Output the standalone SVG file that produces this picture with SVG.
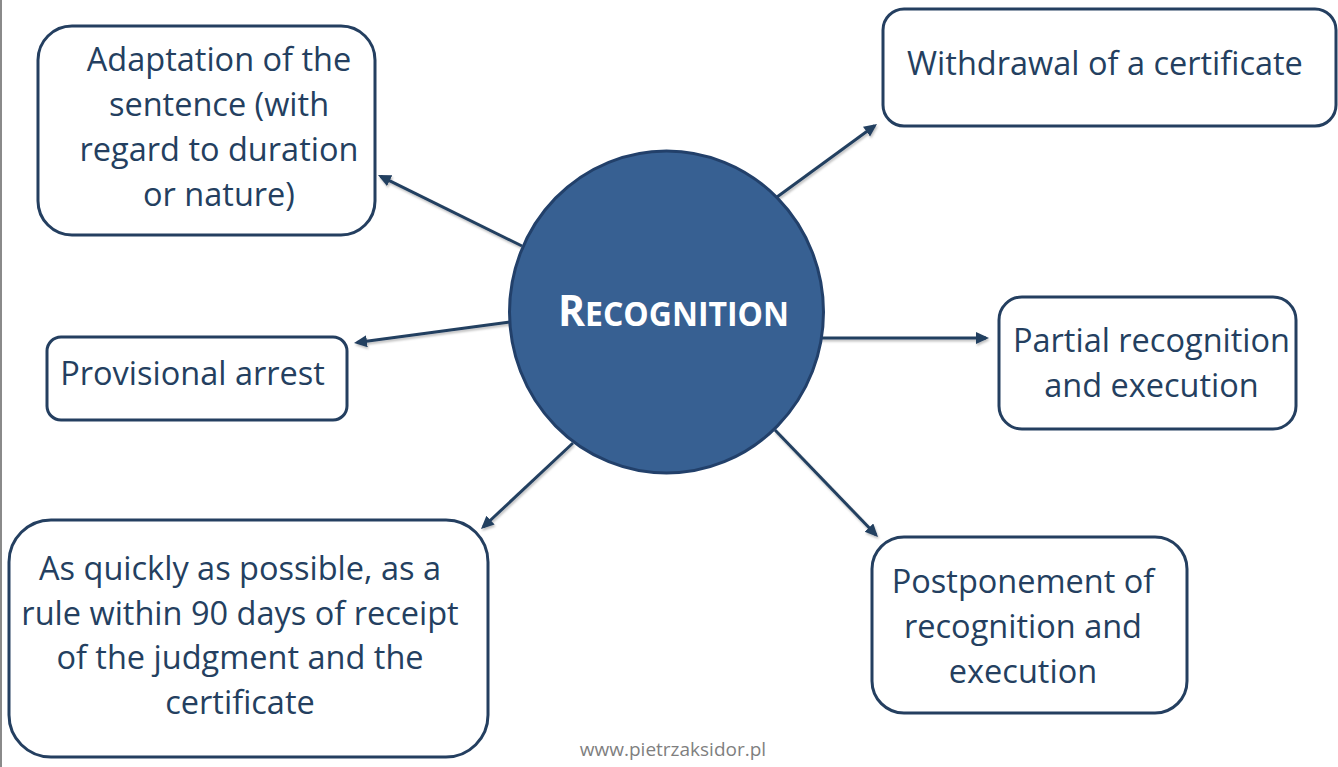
<svg xmlns="http://www.w3.org/2000/svg" width="1338" height="767" viewBox="0 0 1338 767">
  <defs>
    <style>
      .box { fill: #ffffff; stroke: #243f60; stroke-width: 3; }
      .lbl { font-family: "Open Sans", "Liberation Sans", sans-serif; font-size: 32.5px; fill: #243f60; text-anchor: middle; }
      .conn { stroke: #243f60; stroke-width: 3; fill: none; marker-end: url(#arrow); }
      .hub { fill: #376092; stroke: #22406a; stroke-width: 3; }
      .hubtxt { font-family: "Open Sans", "Liberation Sans", sans-serif; font-weight: bold; fill: #ffffff; }
      .footer { font-family: "Open Sans", "Liberation Sans", sans-serif; font-size: 19px; fill: #7f7f7f; text-anchor: middle; }
    </style>
    <marker id="arrow" markerUnits="userSpaceOnUse" markerWidth="16" markerHeight="14" refX="10" refY="6" orient="auto">
      <path d="M0,0 L13,6 L0,12 Z" fill="#243f60"/>
    </marker>
    <filter id="shadow" x="-10%" y="-10%" width="120%" height="130%">
      <feDropShadow dx="1" dy="2" stdDeviation="1.2" flood-color="#000000" flood-opacity="0.25"/>
    </filter>
  </defs>

  <rect x="0" y="0" width="2" height="767" fill="#8a8a8a"/>

  <g id="connectors" filter="url(#shadow)">
    <line class="conn" x1="522" y1="246" x2="380.7" y2="176.3"/>
    <line class="conn" x1="510" y1="322" x2="357" y2="342.6"/>
    <line class="conn" x1="777" y1="197" x2="874.6" y2="125.8"/>
    <line class="conn" x1="821" y1="338" x2="986" y2="338"/>
    <line class="conn" x1="573" y1="443" x2="483.2" y2="527"/>
    <line class="conn" x1="775" y1="430" x2="875.9" y2="534.8"/>
  </g>

  <g id="node-recognition">
    <ellipse class="hub" cx="666.5" cy="312" rx="157" ry="161"/>
    <text class="hubtxt" x="558" y="326" textLength="231" lengthAdjust="spacingAndGlyphs"><tspan font-size="43">R</tspan><tspan font-size="33.5">ECOGNITION</tspan></text>
  </g>

  <g id="node-adaptation">
    <rect class="box" x="38" y="26" width="337" height="209" rx="34" ry="34"/>
    <text class="lbl"><tspan x="219" y="71">Adaptation of the</tspan><tspan x="219" y="116">sentence (with</tspan><tspan x="219" y="161">regard to duration</tspan><tspan x="219" y="206">or nature)</tspan></text>
  </g>

  <g id="node-withdrawal">
    <rect class="box" x="883" y="9" width="453" height="117" rx="21" ry="21"/>
    <text class="lbl" x="1105" y="75">Withdrawal of a certificate</text>
  </g>

  <g id="node-partial">
    <rect class="box" x="999" y="297" width="297" height="132" rx="23" ry="23"/>
    <text class="lbl"><tspan x="1151.5" y="352">Partial recognition</tspan><tspan x="1151.5" y="397">and execution</tspan></text>
  </g>

  <g id="node-provisional">
    <rect class="box" x="47" y="337" width="300" height="83" rx="14" ry="14"/>
    <text class="lbl" x="192.5" y="385">Provisional arrest</text>
  </g>

  <g id="node-quickly">
    <rect class="box" x="9" y="520" width="479" height="237" rx="42" ry="42"/>
    <text class="lbl"><tspan x="240" y="580">As quickly as possible, as a</tspan><tspan x="240" y="625">rule within 90 days of receipt</tspan><tspan x="240" y="669">of the judgment and the</tspan><tspan x="240" y="714">certificate</tspan></text>
  </g>

  <g id="node-postponement">
    <rect class="box" x="872" y="537" width="315" height="176" rx="32" ry="32"/>
    <text class="lbl"><tspan x="1023" y="593">Postponement of</tspan><tspan x="1023" y="638">recognition and</tspan><tspan x="1023" y="683">execution</tspan></text>
  </g>

  <text class="footer" x="673" y="756">www.pietrzaksidor.pl</text>
</svg>
